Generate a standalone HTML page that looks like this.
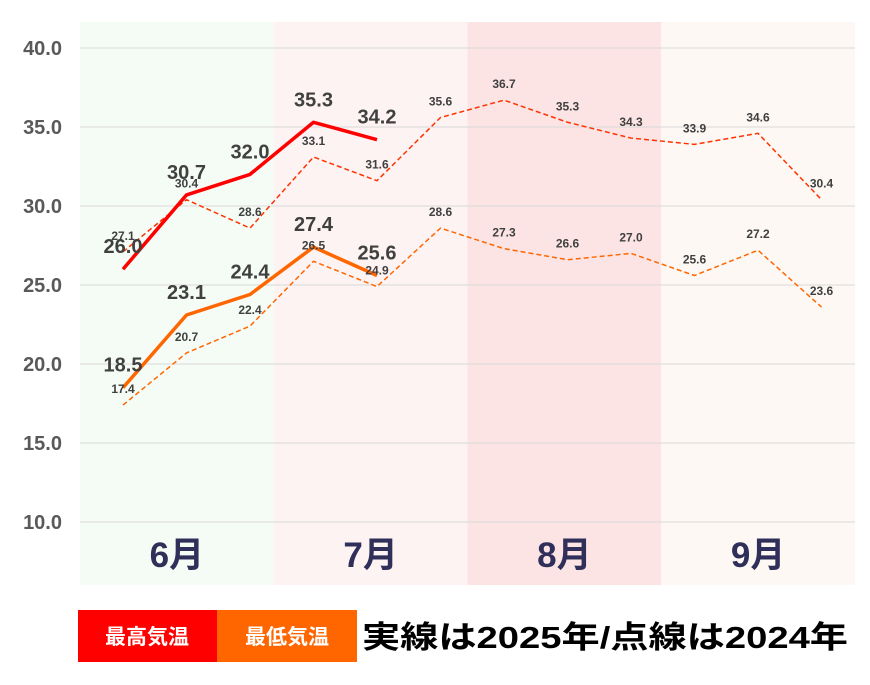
<!DOCTYPE html>
<html><head><meta charset="utf-8">
<style>
html,body{margin:0;padding:0;background:#fff;}
body{width:870px;height:680px;overflow:hidden;font-family:"Liberation Sans","Noto Sans CJK JP",sans-serif;}
</style></head>
<body>
<svg id="chart" width="870" height="680" xmlns="http://www.w3.org/2000/svg" font-family="Liberation Sans, Noto Sans CJK JP, sans-serif">
<g id="bands"></g>
<g id="grid"></g>
<g id="series"></g>
<g id="labels"></g>
<g id="legend">
  <rect x="78" y="610" width="139" height="52" fill="#ff0000"/>
  <text x="147" y="644" fill="#fff" font-size="21" font-weight="bold" text-anchor="middle">最高気温</text>
  <rect x="217" y="610" width="140" height="52" fill="#ff6600"/>
  <text x="287" y="644" fill="#fff" font-size="21" font-weight="bold" text-anchor="middle">最低気温</text>
  <text x="362" y="648" fill="#000" font-size="31" font-weight="bold" textLength="486" lengthAdjust="spacingAndGlyphs">実線は2025年/点線は2024年</text>
</g>
</svg>
<script>
const months = ["6月","7月","8月","9月"];
const yTicks = [10,15,20,25,30,35,40];
const max2025 = [26.0,30.7,32.0,35.3,34.2];
const min2025 = [18.5,23.1,24.4,27.4,25.6];
const max2024 = [27.1,30.4,28.6,33.1,31.6,35.6,36.7,35.3,34.3,33.9,34.6,30.4];
const min2024 = [17.4,20.7,22.4,26.5,24.9,28.6,27.3,26.6,27.0,25.6,27.2,23.6];

const NS="http://www.w3.org/2000/svg";
const L=80,R=855,yTop=48,yBot=522,vMin=10,vMax=40;
const bandColors=["#f5fcf5","#fdf3f3","#fce4e4","#fdf8f3"];
function y(v){return yBot-(v-vMin)/(vMax-vMin)*(yBot-yTop);}
function x(i){return 123+i*63.5;}
function mk(tag,attrs,parent){const e=document.createElementNS(NS,tag);for(const k in attrs)e.setAttribute(k,attrs[k]);parent.appendChild(e);return e;}
const bands=document.getElementById('bands'),grid=document.getElementById('grid'),series=document.getElementById('series'),labels=document.getElementById('labels');
const bw=(R-L)/months.length;
months.forEach((m,i)=>{
  const r=mk('rect',{x:L+i*bw,y:22,width:bw,height:563,fill:bandColors[i]},bands);
  
  
  const t=mk('text',{x:L+i*bw+bw/2,y:567,'text-anchor':'middle','font-size':35,'font-weight':'bold',fill:'#2f2f5a'},bands);
  t.textContent=m;
  
  
});
yTicks.forEach(v=>{
  const l=mk('line',{x1:L,x2:R,y1:y(v),y2:y(v),stroke:'#d9d9d9','stroke-width':1},grid);
  
  
  const t=mk('text',{x:62,y:y(v)+7,'text-anchor':'end','font-size':20,'font-weight':'bold',fill:'#595959'},grid);
  t.textContent=v.toFixed(1);
  
  
});
function line(arr,color,dashed,w,name){
  const p=mk('polyline',{points:arr.map((v,i)=>x(i)+','+y(v)).join(' '),fill:'none',stroke:color,'stroke-width':w,'stroke-dasharray':dashed?'5,3':'none','stroke-linejoin':'round'},series);
  
  
}
line(max2024,'#ff3300',true,1.5,'line-max-2024');
line(min2024,'#ff6600',true,1.5,'line-min-2024');
line(max2025,'#ff0000',false,3.5,'line-max-2025');
line(min2025,'#ff6600',false,3.5,'line-min-2025');
function lab(arr,size,off,name){
  arr.forEach((v,i)=>{
    const t=mk('text',{x:x(i),y:y(v)-off,'text-anchor':'middle','font-size':size,'font-weight':'bold',fill:'#404040'},labels);
    t.textContent=v.toFixed(1);
    
    
  });
}
lab(max2024,12,12,'value-label-max-2024');
lab(min2024,12,12,'value-label-min-2024');
lab(max2025,20,16,'value-label-max-2025');
lab(min2025,20,16,'value-label-min-2025');
</script>
</body></html>
